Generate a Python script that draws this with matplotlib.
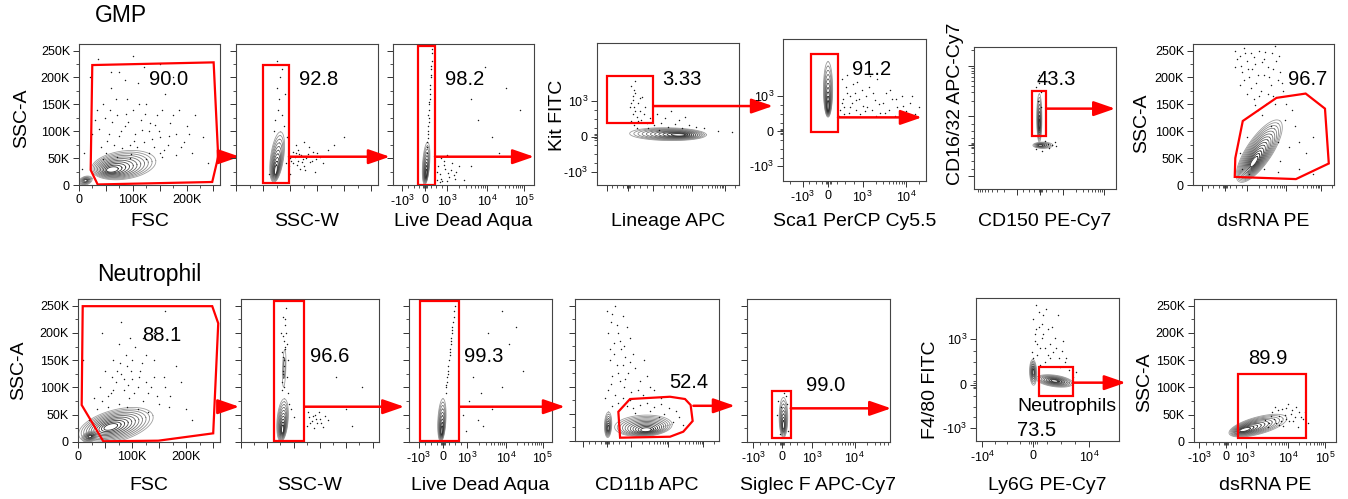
import numpy as np
import matplotlib
matplotlib.use("Agg")
import matplotlib.pyplot as plt
from matplotlib.patches import Polygon

plt.rcParams["font.family"] = ["Liberation Sans", "DejaVu Sans"]
plt.rcParams["mathtext.fontset"] = "custom"
plt.rcParams["mathtext.rm"] = "Liberation Sans"
plt.rcParams["mathtext.it"] = "Liberation Sans:italic"
plt.rcParams["mathtext.bf"] = "Liberation Sans:bold"

W, H = 1348, 499

# ============================================================
# DATA  (scatter channels in K, fluorescence channels in display % 0-100)
# ============================================================

SCATTER_TICKS = [0, 50, 100, 150, 200, 250]
SCATTER_LABELS = ["0", "50K", "100K", "150K", "200K", "250K"]
FSC_LABELS = ["0", "", "100K", "", "200K", ""]

# biex tick positions (display %) and decade exponent (0 = zero)
G3_XT = ([6.5, 22.7, 38.3, 66.7, 92.9], [-3, 0, 3, 4, 5])
G4_XT = ([6.8, 22.0, 39.2, 66.7, 90.0], [-3, 0, 3, 4, 5])
G4_YT = ([9.4, 34.0, 59.4], [-3, 0, 3])
G5_XT = ([13.8, 31.7, 55.6, 86.0], [-3, 0, 3, 4])
G5_YT = ([10.3, 34.9, 59.6], [-3, 0, 3])
G6_XT = ([30.0, 46.8, 63.0, 91.6], [-3, 0, 3, 4])
G6_YT = ([8.9, 30.8, 51.2, 86.9], [-3, 0, 3, 4])
G7_XT = ([6.5, 22.5, 38.6, 66.0, 90.8], [-3, 0, 3, 4, 5])
N3_XT = ([6.7, 23.7, 40.9, 67.9, 93.5], [-3, 0, 3, 4, 5])
N4_XT = ([5.6, 22.0, 39.0, 64.8, 89.1], [-3, 0, 3, 4, 5])
N5_XT = ([4.2, 24.5, 45.4, 75.2], [-3, 0, 3, 4])
N6_XT = ([4.3, 39.6, 78.9], [-4, 0, 4])
N6_YT = ([8.9, 39.2, 71.1], [-3, 0, 3])
N7_XT = ([3.5, 22.6, 36.3, 66.3, 92.3], [-3, 0, 3, 4, 5])

# gates
G1_GATE = [(24.7, 223), (250.3, 228), (258.8, 52.6), (247.7, 5.6), (34.7, 1), (21.7, 27.9)]
G2_GATE = [(49.3, 224), (97.8, 224), (97.8, 3.7), (49.3, 3.7)]
G3_GATE = [(17.5, 259), (29.8, 259), (29.8, 0.5), (17.5, 0.5)]
G4_GATE = [(6.8, 76.8), (39.7, 76.8), (39.7, 43.9), (6.8, 43.9)]
G5_GATE = [(19.9, 89.4), (38.5, 89.4), (38.5, 34.5), (19.9, 34.5)]
G6_GATE = [(40.8, 69.3), (50.8, 69.3), (50.8, 37.6), (40.8, 37.6)]
G7_GATE = [(29.6, 15), (30, 50), (35.3, 119), (59.2, 162), (79.9, 170), (93.6, 142), (96.3, 40), (73, 11)]
N1_GATE = [(8.7, 249), (247.8, 249), (258.9, 217.5), (249.6, 15.9), (148.2, 2.4), (46.7, 1.3), (6.8, 67.8)]
N2_GATE = [(63.2, 258), (120.2, 258), (120.2, 1.8), (63.2, 1.8)]
N3_GATE = [(7.4, 258), (35.3, 258), (35.3, 1.8), (7.4, 1.8)]
N4_GATE = [(30.1, 54), (38.2, 77.5), (66, 81.7), (76.4, 77.5), (80.3, 66.4), (81.7, 36.9),
           (75.2, 17.2), (66, 7.9), (31.3, 6.1)]
N5_GATE = [(17.6, 94), (30.6, 94), (30.6, 6.8), (17.6, 6.8)]
N6_GATE = [(44.1, 52), (68, 52), (68, 31.5), (44.1, 31.5)]
N7_GATE = [(30.9, 125.3), (78.6, 125.3), (78.6, 8), (30.9, 8)]

# gate frequencies and where they sit
G_PCT = ["90.0", "92.8", "98.2", "3.33", "91.2", "43.3", "96.7"]
G_PCT_XY = [(167, 197), (152, 197), (50.6, 197), (60.1, 74.6), (61.8, 78.4), (57.7, 77.3), (81.2, 197)]
N_PCT = ["88.1", "96.6", "99.3", "52.4", "99.0", "73.5", "89.9"]
N_PCT_XY = [(154, 196), (168, 156), (52.1, 156), (78.7, 108), (55.2, 104.4), (28.9, 7), (51.9, 152.8)]

# contour populations: cx, cy, half-major, half-minor (axes frac), angle, levels, inner shift x, y
G1_BLOBS = [(83, 37, 0.23, 0.10, 8, 11, -0.088, -0.034), (12, 8, 0.05, 0.03, 20, 6, 0.0, 0.0)]
G2_BLOBS = [(76, 52, 0.18, 0.046, 82, 10, -0.01, -0.10)]
G3_BLOBS = [(23.5, 40, 0.15, 0.025, 86, 9, 0.0, -0.08)]
G4_BLOBS = [(50, 35.8, 0.27, 0.045, -1, 11, 0.08, -0.005)]
G5_BLOBS = [(31.5, 64.5, 0.195, 0.032, 90, 10, 0.0, -0.13)]
G6_BLOBS = [(46, 50, 0.17, 0.018, 90, 8, 0.0, -0.05), (48.5, 30.8, 0.07, 0.022, 0, 6, -0.02, 0.0)]
G7_BLOBS = [(47, 63, 0.26, 0.09, 56, 14, -0.04, -0.08)]
N1_BLOBS = [(70, 30, 0.27, 0.11, 15, 11, -0.04, -0.01), (22, 10, 0.06, 0.035, 20, 7, 0.0, 0.0)]
N2_BLOBS = [(79, 40, 0.15, 0.04, 85, 10, 0.0, -0.07), (82, 135, 0.13, 0.012, 88, 2, 0.0, 0.0)]
N3_BLOBS = [(23, 40, 0.15, 0.028, 87, 9, 0.0, -0.08)]
N4_BLOBS = [(47.5, 28, 0.20, 0.075, 3, 11, 0.02, -0.03), (23, 30, 0.09, 0.025, 88, 7, 0.0, -0.03)]
N5_BLOBS = [(25.5, 45, 0.14, 0.03, 90, 8, 0.0, -0.06)]
N6_BLOBS = [(55, 42, 0.13, 0.04, -8, 10, 0.0, 0.0), (40, 48, 0.09, 0.025, 92, 7, 0.0, 0.0)]
N7_BLOBS = [(45, 30, 0.21, 0.06, 15, 11, -0.10, -0.03)]

# outlying events
G1_DOTS = [(30, 120), (45, 150), (55, 95), (60, 180), (70, 130), (75, 210), (85, 110), (90, 160), (95, 75),
           (100, 140), (105, 95), (110, 190), (115, 120), (120, 80), (125, 150), (130, 100), (140, 70),
           (145, 130), (150, 90), (160, 170), (165, 75), (170, 115), (180, 95), (185, 140), (195, 80),
           (200, 110), (210, 60), (40, 70), (50, 60), (65, 75), (80, 68), (130, 60), (150, 60), (20, 200),
           (35, 235), (100, 240), (150, 225), (10, 60), (5, 30), (230, 90), (62, 118), (88, 132), (108, 70),
           (118, 102), (136, 86), (74, 92), (96, 58), (52, 82), (142, 112), (158, 66),
           (25, 95), (38, 105), (48, 125), (58, 140), (68, 160), (78, 100), (92, 118), (102, 82), (112, 150),
           (122, 132), (132, 115), (148, 100), (155, 140), (168, 92), (175, 130), (190, 70), (205, 95),
           (60, 210), (85, 195), (120, 220), (175, 200), (45, 48), (70, 52), (95, 50), (125, 48), (155, 52),
           (180, 55), (33, 140), (215, 130), (240, 40)]
G2_DOTS = [(72, 120), (78, 140), (80, 160), (75, 180), (82, 200), (85, 215), (70, 100), (88, 110), (76, 230),
           (84, 130), (90, 170), (100, 50), (105, 40), (110, 60), (115, 45), (120, 55), (125, 35), (130, 50),
           (140, 45), (150, 60), (135, 70), (110, 75), (118, 30), (160, 40), (170, 65), (180, 75), (200, 90),
           (145, 25), (125, 80), (60, 20), (95, 90), (100, 20), (108, 52), (122, 42), (132, 58), (114, 66),
           (98, 35), (155, 52), (128, 28), (142, 62), (102, 45), (112, 38), (116, 58), (124, 48), (136, 42),
           (148, 48), (105, 62), (92, 40)]
G3_DOTS = [(23.8, 60), (24.2, 80), (24.5, 95), (24.8, 110), (25.2, 125), (25.5, 140), (25.8, 155),
           (26.2, 170), (26.5, 185), (26.8, 200), (27.2, 215), (27.5, 230), (27.8, 245), (25, 130),
           (26, 160), (24, 70), (27, 205), (25.7, 150), (24.6, 100), (26.4, 178), (25.3, 118), (26.9, 222),
           (24.9, 88), (27.6, 252), (31, 10), (33, 20), (35, 8), (37, 30), (40, 15), (42, 40), (34, 50),
           (38, 55), (45, 25), (50, 10), (55, 35), (32, 35), (36, 45), (60, 120), (70, 90), (80, 180),
           (65, 220), (75, 60), (90, 140), (55, 160), (33, 5), (39, 22), (44, 12), (31, 25), (34, 12),
           (36, 38), (41, 28), (43, 18), (47, 35), (38, 8)]
G4_DOTS = [(24, 45), (25, 50), (26, 55), (25, 60), (27, 65), (24, 70), (28, 48), (30, 52), (26, 42), (29, 58),
           (31, 46), (33, 50), (27, 73), (35, 44), (32, 62), (37, 47), (23, 55), (28, 40), (40, 42), (45, 44),
           (50, 41), (55, 43), (60, 40), (65, 42), (48, 47), (58, 46), (70, 41), (42, 50), (52, 52), (62, 48),
           (75, 40), (85, 38), (95, 37), (25, 63), (27, 52), (29, 45), (24, 58), (26, 67), (30, 61), (34, 55),
           (36, 40), (44, 39)]
G5_DOTS = [(40, 50), (42, 58), (44, 66), (46, 48), (48, 55), (50, 62), (52, 70), (54, 47), (56, 53), (58, 60),
           (60, 66), (62, 50), (64, 57), (66, 72), (68, 48), (70, 55), (72, 62), (74, 50), (76, 58), (78, 46),
           (80, 52), (83, 60), (86, 49), (89, 55), (92, 47), (95, 52), (41, 72), (45, 75), (39, 46), (47, 60),
           (53, 58), (57, 49), (61, 74), (65, 46), (43, 52), (51, 50), (41, 55), (43, 47), (45, 62), (47, 52),
           (49, 68), (51, 57), (55, 64), (59, 52), (63, 62), (67, 54), (71, 48), (75, 64), (79, 58), (84, 53),
           (90, 60)]
G6_DOTS = [(44, 72), (46, 75), (47, 68), (52, 32), (55, 31), (57, 33), (58, 30), (44, 28), (48, 27), (53, 29),
           (50, 34), (45, 62), (47, 58), (46, 80)]
G7_DOTS = [(30, 250), (33, 240), (36, 255), (38, 230), (41, 245), (44, 225), (47, 250), (50, 235), (53, 220),
           (56, 245), (59, 230), (62, 210), (35, 210), (40, 200), (45, 190), (50, 205), (55, 185), (60, 195),
           (33, 185), (38, 170), (43, 160), (48, 175), (52, 150), (57, 165), (64, 175), (66, 150), (70, 140),
           (30, 220), (42, 215), (58, 258), (46, 140), (65, 120), (72, 110), (75, 80), (80, 60), (85, 90),
           (68, 70), (35, 30), (40, 20), (60, 25), (75, 30), (85, 20), (38, 90), (55, 110), (60, 80), (33, 60),
           (50, 30), (62, 45), (31, 235), (34, 222), (37, 246), (39, 215), (43, 238), (46, 205), (49, 228),
           (51, 248), (54, 200), (57, 215), (61, 240), (63, 190), (36, 195), (41, 180), (47, 165), (53, 170),
           (58, 150), (44, 148), (49, 130)]
N1_DOTS = [(30, 80), (40, 100), (50, 130), (60, 90), (65, 150), (70, 110), (75, 70), (80, 125), (85, 95),
           (90, 140), (95, 80), (100, 115), (105, 175), (110, 100), (115, 130), (120, 75), (125, 160),
           (130, 90), (140, 120), (150, 70), (160, 100), (170, 85), (180, 140), (200, 60), (35, 60), (55, 65),
           (90, 65), (110, 60), (130, 55), (20, 40), (45, 200), (80, 220), (140, 200), (160, 240), (190, 110),
           (10, 150), (210, 40), (100, 150), (75, 180), (120, 190), (45, 75), (55, 85), (65, 95), (72, 130),
           (78, 145), (85, 115), (92, 105), (98, 130), (104, 90), (112, 120), (118, 145), (126, 110),
           (134, 100), (146, 85), (158, 120), (168, 65), (62, 120), (88, 160), (96, 190), (140, 150)]
N2_DOTS = [(78, 110), (80, 125), (82, 140), (79, 155), (84, 170), (81, 185), (85, 200), (83, 215), (80, 230),
           (86, 245), (77, 95), (88, 120), (90, 150), (87, 180), (76, 200), (82, 100), (89, 90), (92, 70),
           (95, 60), (100, 45), (125, 30), (130, 45), (135, 38), (140, 50), (145, 35), (150, 42), (155, 28),
           (160, 48), (128, 55), (138, 25), (148, 55), (165, 40), (180, 120), (200, 60), (230, 100), (210, 30),
           (79, 130), (81, 150), (83, 175), (80, 195), (84, 225), (78, 165), (132, 35), (142, 42), (152, 35),
           (137, 48)]
N3_DOTS = [(25.6, 90), (26, 100), (26.4, 110), (26.8, 120), (27.2, 130), (27.6, 140), (28, 150), (28.4, 160),
           (28.8, 170), (29.2, 180), (29.6, 190), (30, 200), (30.4, 210), (30.8, 220), (31.2, 230), (31.6, 240),
           (32, 250), (27, 125), (28.6, 165), (30.2, 205), (26.2, 105), (29.4, 185), (45, 120), (50, 90),
           (55, 200), (60, 150), (65, 240), (70, 180), (58, 60), (48, 40), (40, 20), (38, 50), (42, 75),
           (52, 30), (65, 100), (75, 210), (80, 130)]
N4_DOTS = [(22, 240), (25, 220), (28, 250), (30, 200), (33, 230), (36, 210), (27, 180), (32, 170), (38, 190),
           (24, 150), (29, 140), (35, 155), (40, 160), (26, 120), (31, 110), (37, 125), (42, 135), (23, 95),
           (28, 85), (34, 100), (39, 90), (45, 110), (50, 120), (55, 95), (48, 150), (60, 80), (30, 70),
           (36, 65), (26, 65), (40, 60), (45, 66), (50, 70), (55, 63), (60, 68), (65, 60), (70, 55), (42, 52),
           (52, 55), (62, 50), (72, 45), (68, 35), (75, 30), (58, 45), (23, 200), (26, 235), (29, 215),
           (31, 185), (34, 175), (24, 170), (27, 160), (33, 140), (38, 145), (30, 125), (35, 115), (25, 105),
           (44, 95), (21, 80), (33, 80), (47, 85), (52, 100), (38, 75)]
N5_DOTS = [(22, 75), (28, 70), (27, 85), (23, 15), (29, 20), (24, 65), (26, 90), (21, 50)]
N6_DOTS = [(40, 85), (42, 78), (44, 90), (41, 70), (45, 65), (47, 75), (50, 60), (52, 68), (55, 72), (58, 58),
           (60, 63), (48, 55), (43, 60), (46, 82), (53, 80), (57, 88), (62, 55), (65, 50), (68, 45), (70, 48),
           (39, 62), (49, 92), (54, 62), (42, 95), (61, 70), (45, 53), (41, 75), (43, 68), (44, 80), (46, 72),
           (48, 65), (50, 78), (52, 58), (56, 65), (59, 52), (63, 58), (40, 58), (47, 88)]
N7_DOTS = [(50, 40), (55, 55), (58, 35), (60, 48), (62, 60), (65, 42), (68, 52), (70, 38), (72, 65), (75, 45),
           (78, 55), (80, 35), (57, 65), (63, 30), (52, 28), (66, 70), (73, 28), (54, 47), (61, 38), (69, 58),
           (56, 42), (59, 58), (64, 50), (67, 38), (71, 46), (74, 55), (77, 42), (60, 32), (53, 35), (65, 62)]

# arrows: start x, end x, height (source panel units)
G_ARROWS = [(258.8, 299, 52.6), (97.8, 284, 52.6), (29.8, 100, 52.6), (39.7, 123.9, 55.6),
            (38.5, 97.1, 44.8), (50.8, 99.4, 56.6), None]
N_ARROWS = [(258.9, 297.6, 64.7), (120.2, 310, 64.7), (35.3, 109, 64.7), (82.2, 111, 65),
            (30.6, 100.8, 61.7), (68, 104.7, 40.8), None]

G_XLABELS = ["FSC", "SSC-W", "Live Dead Aqua", "Lineage APC", "Sca1 PerCP Cy5.5", "CD150 PE-Cy7", "dsRNA PE"]
N_XLABELS = ["FSC", "SSC-W", "Live Dead Aqua", "CD11b APC", "Siglec F APC-Cy7", "Ly6G PE-Cy7", "dsRNA PE"]

# ============================================================
# LAYOUT
# ============================================================

K = (0, 262.144)
P = (0, 100)

G_RECTS = [(79, 44, 220, 185), (236, 44, 378, 185), (393, 44, 534, 185), (597, 43, 739, 185),
           (783, 39, 926, 181), (974, 47, 1116, 189), (1193, 44, 1334, 185)]
N_RECTS = [(78, 299, 220, 442), (241, 299, 379, 442), (409, 299, 552, 442), (575, 299, 719, 441),
           (747, 299, 890, 442), (976, 298, 1119, 441), (1194, 299, 1336, 442)]
ROW_XLABEL_Y = [221, 485]


def lin(labels):
    return ("lin", labels)


def biex(t, show=True):
    return ("biex", t[0], t[1], show)


G_SPEC = [
    dict(xr=K, yr=K, xa=lin(FSC_LABELS), ya=lin(SCATTER_LABELS), ylabel="SSC-A", ylab=(-0.41, 0.475),
         gate=G1_GATE, blobs=G1_BLOBS, dots=G1_DOTS),
    dict(xr=K, yr=K, xa=lin(None), ya=lin(None), gate=G2_GATE, blobs=G2_BLOBS, dots=G2_DOTS),
    dict(xr=P, yr=K, xa=biex(G3_XT), ya=lin(None), gate=G3_GATE, blobs=G3_BLOBS, dots=G3_DOTS),
    dict(xr=P, yr=P, xa=biex(G4_XT, False), ya=biex(G4_YT), ylabel="Kit FITC", ylab=(-0.28, 0.49),
         gate=G4_GATE, blobs=G4_BLOBS, dots=G4_DOTS),
    dict(xr=P, yr=P, xa=biex(G5_XT), ya=biex(G5_YT), gate=G5_GATE, blobs=G5_BLOBS, dots=G5_DOTS),
    dict(xr=P, yr=P, xa=biex(G6_XT, False), ya=biex(G6_YT, False), ylabel="CD16/32 APC-Cy7",
         ylab=(-0.127, 0.6), gate=G6_GATE, blobs=G6_BLOBS, dots=G6_DOTS),
    dict(xr=P, yr=K, xa=biex(G7_XT, False), ya=lin(SCATTER_LABELS), ylabel="SSC-A", ylab=(-0.366, 0.44),
         gate=G7_GATE, blobs=G7_BLOBS, dots=G7_DOTS),
]
N_SPEC = [
    dict(xr=K, yr=K, xa=lin(FSC_LABELS), ya=lin(SCATTER_LABELS), ylabel="SSC-A", ylab=(-0.42, 0.5),
         gate=N1_GATE, blobs=N1_BLOBS, dots=N1_DOTS),
    dict(xr=K, yr=K, xa=lin(None), ya=lin(None), gate=N2_GATE, blobs=N2_BLOBS, dots=N2_DOTS),
    dict(xr=P, yr=K, xa=biex(N3_XT), ya=lin(None), gate=N3_GATE, blobs=N3_BLOBS, dots=N3_DOTS),
    dict(xr=P, yr=K, xa=biex(N4_XT, False), ya=lin(None), gate=N4_GATE, blobs=N4_BLOBS, dots=N4_DOTS),
    dict(xr=P, yr=K, xa=biex(N5_XT), ya=lin(None), gate=N5_GATE, blobs=N5_BLOBS, dots=N5_DOTS),
    dict(xr=P, yr=P, xa=biex(N6_XT), ya=biex(N6_YT), ylabel="F4/80 FITC", ylab=(-0.315, 0.357),
         gate=N6_GATE, blobs=N6_BLOBS, dots=N6_DOTS, name="Neutrophils", pct_ha="left"),
    dict(xr=P, yr=K, xa=biex(N7_XT), ya=lin(SCATTER_LABELS), ylabel="SSC-A", ylab=(-0.345, 0.42),
         gate=N7_GATE, blobs=N7_BLOBS, dots=N7_DOTS),
]


# ============================================================
# HELPERS
# ============================================================

def biex_label(e):
    if e == 0:
        return "0"
    if e > 0:
        return r"$\mathregular{10^{%d}}$" % e
    return r"-$\mathregular{10^{%d}}$" % (-e)


def biex_minor(pos, exps, lim):
    out = []
    logs = np.log10(np.arange(2, 10))
    span = None
    for i in range(len(pos) - 1):
        if exps[i] > 0 and exps[i + 1] > 0:
            span = pos[i + 1] - pos[i]
    for i in range(len(pos) - 1):
        p, q, e, f = pos[i], pos[i + 1], exps[i], exps[i + 1]
        if e != 0 and f != 0 and e * f > 0:
            out += list(p + (q - p) * logs)
        else:
            z, o = (p, q) if e == 0 else (q, p)
            out += [z + (o - z) * g for g in (0.04, 0.08, 0.25, 0.5, 0.75)]
    if span:
        if exps[-1] > 0:
            out += list(pos[-1] + span * logs)
        if exps[0] < 0:
            out += list(pos[0] - span * logs)
    return [v for v in out if lim[0] < v < lim[1]]


def setup_axis(axis, spec, lim):
    if spec[0] == "lin":
        axis.set_ticks(SCATTER_TICKS)
        axis.set_ticks([25, 75, 125, 175, 225], minor=True)
        axis.set_ticklabels(spec[1] if spec[1] else [""] * len(SCATTER_TICKS))
    else:
        _, pos, exps, show = spec
        axis.set_ticks(pos)
        axis.set_ticks(biex_minor(pos, exps, lim), minor=True)
        axis.set_ticklabels([biex_label(e) for e in exps] if show else [""] * len(pos))


def draw_blob(ax, blob, xr, yr):
    cx, cy, a, b, ang, nlev, sx, sy = blob
    t = np.linspace(0, 2 * np.pi, 120)
    th = np.deg2rad(ang)
    ux = (cx - xr[0]) / (xr[1] - xr[0])
    uy = (cy - yr[0]) / (yr[1] - yr[0])
    for k in range(nlev):
        f = k / nlev
        s = 1 - 0.9 * f
        ex, ey = a * s * np.cos(t), b * s * np.sin(t)
        px = ux + sx * f + ex * np.cos(th) - ey * np.sin(th)
        py = uy + sy * f + ex * np.sin(th) + ey * np.cos(th)
        shade = 0.62 - 0.5 * f
        ax.plot(xr[0] + px * (xr[1] - xr[0]), yr[0] + py * (yr[1] - yr[0]),
                color=str(shade), lw=0.6, zorder=2)


# ============================================================
# FIGURE
# ============================================================

fig = plt.figure(figsize=(W / 100, H / 100), dpi=100)

rows = [(G_RECTS, G_SPEC, G_PCT, G_PCT_XY, G_ARROWS, G_XLABELS),
        (N_RECTS, N_SPEC, N_PCT, N_PCT_XY, N_ARROWS, N_XLABELS)]

for r, (rects, specs, pcts, pct_xy, arrows, xlabels) in enumerate(rows):
    for i in range(7):
        x0, y0, x1, y1 = rects[i]
        sp = specs[i]
        ax = fig.add_axes([x0 / W, 1 - y1 / H, (x1 - x0) / W, (y1 - y0) / H])
        ax.set_xlim(*sp["xr"])
        ax.set_ylim(*sp["yr"])
        setup_axis(ax.xaxis, sp["xa"], sp["xr"])
        setup_axis(ax.yaxis, sp["ya"], sp["yr"])
        ax.tick_params(which="major", length=4, width=0.7, direction="out", color="#333333",
                       labelsize=9, pad=2.5)
        ax.tick_params(which="minor", length=2, width=0.6, direction="out", color="#333333")
        for s in ax.spines.values():
            s.set_color("#444444")
            s.set_linewidth(0.8)

        for blob in sp["blobs"]:
            draw_blob(ax, blob, sp["xr"], sp["yr"])
        dx, dy = zip(*sp["dots"])
        ax.scatter(dx, dy, s=1.1, c="#1a1a1a", linewidths=0, zorder=3)

        ax.add_patch(Polygon(sp["gate"], closed=True, fill=False, ec="red", lw=1.6,
                             joinstyle="miter", zorder=4))

        px, py = pct_xy[i]
        ha = sp.get("pct_ha", "center")
        ax.text(px, py, pcts[i], ha=ha, va="center", fontsize=14.5, zorder=5, clip_on=False)
        if "name" in sp:
            ax.text(px, 24, sp["name"], ha="left", va="center", fontsize=14, zorder=5, clip_on=False)

        if arrows[i] is not None:
            ax0, ax1, ay = arrows[i]
            ax.annotate("", xy=(ax1, ay), xytext=(ax0, ay), annotation_clip=False, zorder=6,
                        arrowprops=dict(arrowstyle="-|>,head_length=1.3,head_width=0.45", color="red",
                                        lw=1.8, shrinkA=0, shrinkB=0, mutation_scale=10))

        ax.set_xlabel(xlabels[i], fontsize=14)
        ax.xaxis.set_label_coords(0.5, (y1 - ROW_XLABEL_Y[r]) / (y1 - y0))
        ax.xaxis.label.set_va("center")
        if "ylabel" in sp:
            ax.set_ylabel(sp["ylabel"], fontsize=14)
            ax.yaxis.set_label_coords(*sp["ylab"])
            ax.yaxis.label.set_va("center")
            ax.yaxis.label.set_ha("center")

fig.text(121 / W, 1 - 16 / H, "GMP", ha="center", va="center", fontsize=16.5)
fig.text(149 / W, 1 - 275 / H, "Neutrophil", ha="center", va="center", fontsize=16.5)

fig.savefig("out.png", dpi=100)
